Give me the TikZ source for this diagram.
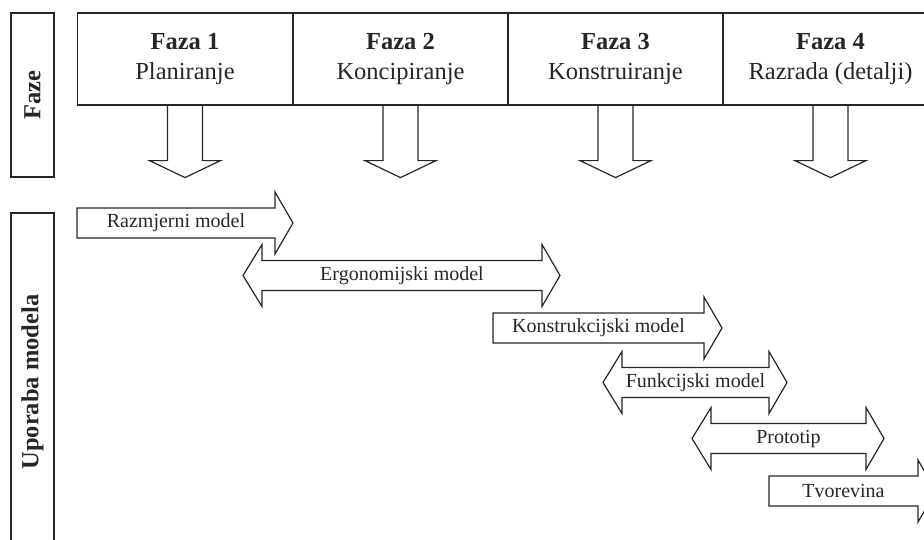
\documentclass[tikz,border=0pt]{standalone}
\usepackage{fontspec}
\setmainfont{Liberation Serif}
\usetikzlibrary{calc}
\definecolor{ink}{HTML}{262626}
\tikzset{
  line/.style={draw=ink, line width=1.2pt, line join=miter},
  phasebox/.style={line, minimum width=215pt, minimum height=92pt, inner sep=0pt, align=center,
    font=\fontsize{24.5}{30}\selectfont, text=ink},
  sidebox/.style={line, rotate=90, inner sep=0pt, font=\bfseries\fontsize{24.5}{30}\selectfont, text=ink},
  modeltext/.style={inner sep=0pt, font=\fontsize{20}{24}\selectfont, text=ink},
}
% right arrow: name, x-left, x-tip, y-centre, text
\newcommand{\RightArr}[5]{%
  \draw[line, fill=white] (#2,#4-15) -- (#3-18,#4-15) -- (#3-18,#4-31) -- (#3,#4)
     -- (#3-18,#4+31) -- (#3-18,#4+15) -- (#2,#4+15) -- cycle;
  \node[modeltext] (#1) at ({(#2+#3-18)/2},#4) {#5};}
% double arrow: name, x-left tip, x-right tip, y-centre, text
\newcommand{\BothArr}[5]{%
  \draw[line, fill=white] (#2,#4) -- (#2+19,#4-31) -- (#2+19,#4-15) -- (#3-18,#4-15) -- (#3-18,#4-31) -- (#3,#4)
     -- (#3-18,#4+31) -- (#3-18,#4+15) -- (#2+19,#4+15) -- (#2+19,#4+31) -- cycle;
  \node[modeltext] (#1) at ({(#2+#3+1)/2},#4) {#5};}
\begin{document}
\begin{tikzpicture}[x=1pt,y=-1pt]
\useasboundingbox (0,0) rectangle (924,539);
\clip (0,0) rectangle (924,539);
% side labels
\node[sidebox, minimum width=164pt, minimum height=43pt] (faze) at (32.5,95) {Faze};
\node[sidebox, minimum width=338pt, minimum height=43pt] (uporaba) at (32.5,382) {Uporaba modela};
% phases
\node[phasebox] (p1) at (185,59) {\textbf{Faza 1}\\Planiranje};
\node[phasebox] (p2) at (400.5,59) {\textbf{Faza 2}\\Koncipiranje};
\node[phasebox] (p3) at (615.5,59) {\textbf{Faza 3}\\Konstruiranje};
\node[phasebox] (p4) at (830.5,59) {\textbf{Faza 4}\\Razrada (detalji)};
% down arrows
\foreach \p in {p1,p2,p3,p4}{
  \draw[line] ($(\p.south)+(-17.5,0)$) -- ++(0,55) -- ++(-18,0) -- ++(35.5,17) -- ++(35.5,-17) -- ++(-18,0) -- ++(0,-55);
}
% model arrows
\RightArr{razm}{77}{293}{223}{Razmjerni model}
\BothArr{ergo}{243}{560}{275.5}{Ergonomijski model}
\RightArr{konstr}{493}{722}{328}{Konstrukcijski model}
\BothArr{funk}{603}{787}{382.5}{Funkcijski model}
\BothArr{proto}{692}{884}{438.5}{Prototip}
\RightArr{tvor}{769}{936}{491}{Tvorevina}
\end{tikzpicture}
\end{document}
